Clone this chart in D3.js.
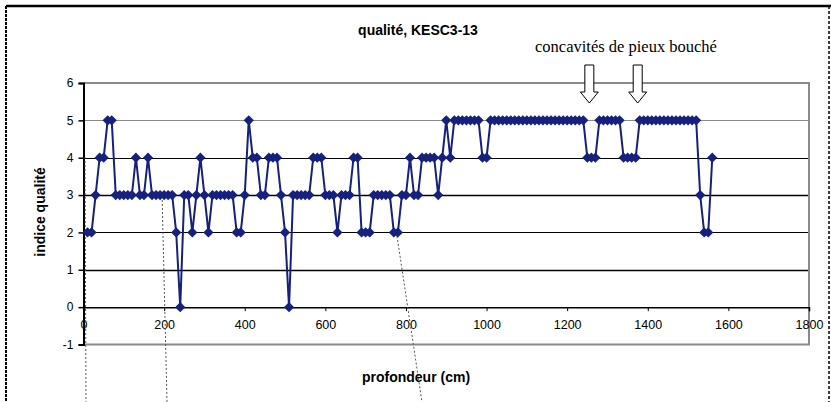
<!DOCTYPE html>
<html>
<head>
<meta charset="utf-8">
<script src="https://cdn.jsdelivr.net/npm/d3@7"></script>
<style>
  body { margin: 0; background: #fff; }
  svg { display: block; }
</style>
</head>
<body>
<div class="chart"></div>
<script>
// qualite KESC3-13, indice qualité vs profondeur
var width = 831;
var height = 402;

var depth = [
  10, 20, 30, 40, 50, 60, 70, 80, 90, 100,
  110, 120, 130, 140, 150, 160, 170, 180, 190, 200,
  210, 220, 230, 240, 250, 260, 270, 280, 290, 300,
  310, 320, 330, 340, 350, 360, 370, 380, 390, 400,
  410, 420, 430, 440, 450, 460, 470, 480, 490, 500,
  510, 520, 530, 540, 550, 560, 570, 580, 590, 600,
  610, 620, 630, 640, 650, 660, 670, 680, 690, 700,
  710, 720, 730, 740, 750, 760, 770, 780, 790, 800,
  810, 820, 830, 840, 850, 860, 870, 880, 890, 900,
  910, 920, 930, 940, 950, 960, 970, 980, 990, 1000,
  1010, 1020, 1030, 1040, 1050, 1060, 1070, 1080, 1090, 1100,
  1110, 1120, 1130, 1140, 1150, 1160, 1170, 1180, 1190, 1200,
  1210, 1220, 1230, 1240, 1250, 1260, 1270, 1280, 1290, 1300,
  1310, 1320, 1330, 1340, 1350, 1360, 1370, 1380, 1390, 1400,
  1410, 1420, 1430, 1440, 1450, 1460, 1470, 1480, 1490, 1500,
  1510, 1520, 1530, 1540, 1550, 1560
];

var quality = [
  2, 2, 3, 4, 4, 5, 5, 3, 3, 3,
  3, 3, 4, 3, 3, 4, 3, 3, 3, 3,
  3, 3, 2, 0, 3, 3, 2, 3, 4, 3,
  2, 3, 3, 3, 3, 3, 3, 2, 2, 3,
  5, 4, 4, 3, 3, 4, 4, 4, 3, 2,
  0, 3, 3, 3, 3, 3, 4, 4, 4, 3,
  3, 3, 2, 3, 3, 3, 4, 4, 2, 2,
  2, 3, 3, 3, 3, 3, 2, 2, 3, 3,
  4, 3, 3, 4, 4, 4, 4, 3, 4, 5,
  4, 5, 5, 5, 5, 5, 5, 5, 4, 4,
  5, 5, 5, 5, 5, 5, 5, 5, 5, 5,
  5, 5, 5, 5, 5, 5, 5, 5, 5, 5,
  5, 5, 5, 5, 4, 4, 4, 5, 5, 5,
  5, 5, 5, 4, 4, 4, 4, 5, 5, 5,
  5, 5, 5, 5, 5, 5, 5, 5, 5, 5,
  5, 5, 3, 2, 2, 4
];

var xTicks = [0, 200, 400, 600, 800, 1000, 1200, 1400, 1600, 1800];
var yTicks = [-1, 0, 1, 2, 3, 4, 5, 6];
var arrowDepths = [1255, 1375];

var title = 'qualité, KESC3-13';
var note = 'concavités de pieux bouché';
var xLabel = 'profondeur (cm)';
var yLabel = 'indice qualité';

var blue = '#15207f';
var data = depth.map((d, i) => ({depth: d, q: quality[i]}));

var x = d3.scaleLinear().domain([0, 1800]).range([83.5, 809]);
var y = d3.scaleLinear().domain([-1, 6]).range([344.5, 83]);

var svg = d3.select('.chart').append('svg')
    .attr('width', width)
    .attr('height', height)
    .style('font-family', 'Liberation Sans, Arial, sans-serif');

// page frame from the scanned document
svg.append('line')
    .attr('x1', 6).attr('y1', 6).attr('x2', 831).attr('y2', 6)
    .attr('stroke', '#000').attr('stroke-width', 2.5);
svg.append('line')
    .attr('x1', 6).attr('y1', 6).attr('x2', 6).attr('y2', 402)
    .attr('stroke', '#000').attr('stroke-width', 2)
    .attr('stroke-dasharray', '3,1');
svg.append('line')
    .attr('x1', 829).attr('y1', 6).attr('x2', 829).attr('y2', 402)
    .attr('stroke', '#000').attr('stroke-width', 1.5)
    .attr('stroke-dasharray', '3,2');

// gridlines
svg.append('g')
  .selectAll('line')
  .data(yTicks.filter(t => t > 0 && t < 6))
  .enter().append('line')
    .attr('x1', x(0)).attr('x2', x(1800))
    .attr('y1', d => Math.round(y(d)) + 0.5)
    .attr('y2', d => Math.round(y(d)) + 0.5)
    .attr('stroke', d => d === 5 ? '#8a8a8a' : '#000')
    .attr('stroke-width', d => (d === 3 || d === 1) ? 1.6 : 1);

// plot border (top, right, bottom)
svg.append('path')
    .attr('d', `M${x(0)},${y(6)}H${x(1800)}V${y(-1)}H${x(0)}`)
    .attr('fill', 'none')
    .attr('stroke', '#8a8a8a')
    .attr('stroke-width', 2);

// y axis
var yAxis = svg.append('g')
    .attr('transform', `translate(${x(0)},0)`)
    .call(d3.axisLeft(y).tickValues(yTicks).tickSize(5).tickPadding(5).tickFormat(d => String(d)));
yAxis.select('.domain').attr('stroke-width', 2);
yAxis.selectAll('line').attr('stroke-width', 1.5);
yAxis.selectAll('text').style('font-size', '12px').attr('fill', '#000');

// x axis sits on y = 0
var xAxis = svg.append('g')
    .attr('transform', `translate(0,${y(0)})`)
    .call(d3.axisBottom(x).tickValues(xTicks).tickSize(4).tickPadding(9).tickFormat(d => String(d)));
xAxis.select('.domain').attr('stroke-width', 1.5);
xAxis.selectAll('text').style('font-size', '12.5px').attr('fill', '#000');

// leader lines from the document
var leaders = [[85, 157, 86, 402], [162, 192, 167, 402], [397, 236, 422, 402]];
svg.append('g')
  .selectAll('line')
  .data(leaders)
  .enter().append('line')
    .attr('x1', d => d[0]).attr('y1', d => d[1])
    .attr('x2', d => d[2]).attr('y2', d => d[3])
    .attr('stroke', '#555')
    .attr('stroke-width', 1)
    .attr('stroke-dasharray', '2,2');

// series
var line = d3.line().x(d => x(d.depth)).y(d => y(d.q));
svg.append('path')
    .datum(data)
    .attr('d', line)
    .attr('fill', 'none')
    .attr('stroke', blue)
    .attr('stroke-width', 2);

var marker = d3.symbol().type(d3.symbolSquare).size(52);
svg.append('g')
  .selectAll('path')
  .data(data)
  .enter().append('path')
    .attr('transform', d => `translate(${x(d.depth)},${y(d.q)}) rotate(45)`)
    .attr('d', marker)
    .attr('fill', blue);

// titles
svg.append('text')
    .attr('x', 418).attr('y', 35)
    .attr('text-anchor', 'middle')
    .style('font-size', '14px')
    .style('font-weight', 'bold')
    .text(title);

svg.append('text')
    .attr('x', 626).attr('y', 52)
    .attr('text-anchor', 'middle')
    .style('font-family', 'Liberation Serif, Times New Roman, serif')
    .style('font-size', '16.5px')
    .text(note);

svg.append('text')
    .attr('x', 416).attr('y', 382)
    .attr('text-anchor', 'middle')
    .style('font-size', '14px')
    .style('font-weight', 'bold')
    .text(xLabel);

svg.append('text')
    .attr('transform', `translate(45,${212}) rotate(-90)`)
    .attr('text-anchor', 'middle')
    .style('font-size', '14px')
    .style('font-weight', 'bold')
    .text(yLabel);

// hollow arrows pointing down
var arrow = 'M-4.5,0V27H-9L0,38L9,27H4.5V0Z';
svg.append('g')
  .selectAll('path')
  .data(arrowDepths)
  .enter().append('path')
    .attr('transform', d => `translate(${x(d)},65)`)
    .attr('d', arrow)
    .attr('fill', '#fff')
    .attr('stroke', '#000')
    .attr('stroke-width', 1);

svg.node();
</script>
</body>
</html>
